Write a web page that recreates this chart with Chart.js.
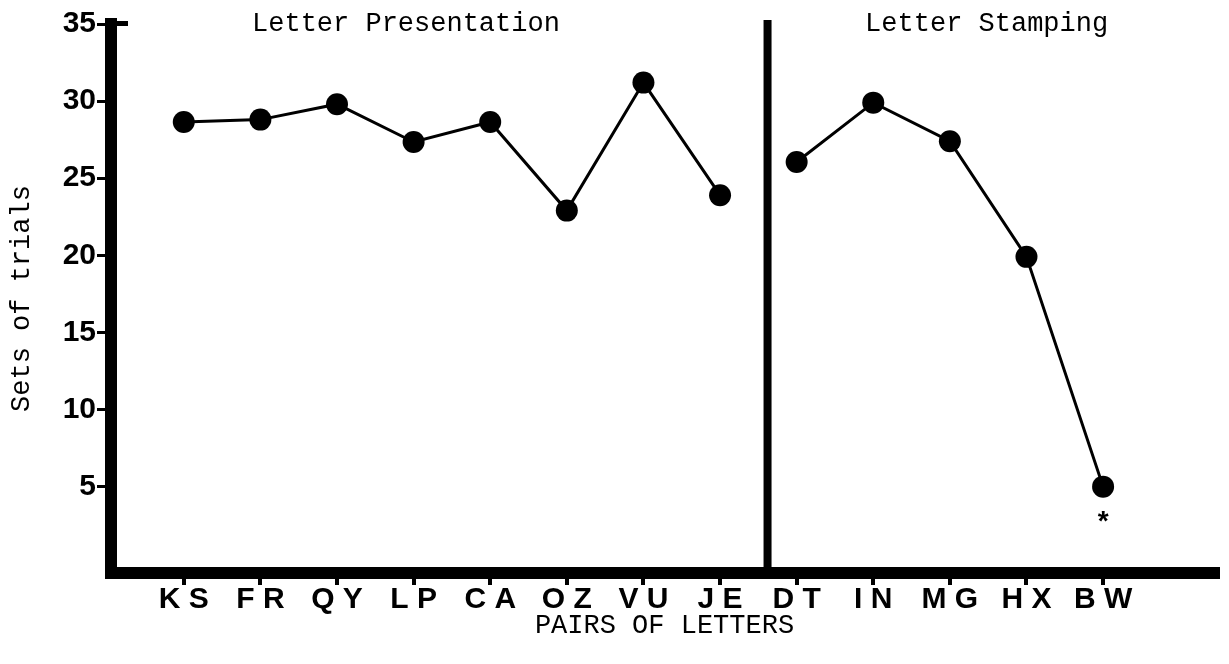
<!DOCTYPE html>
<html>
<head>
<meta charset="utf-8">
<script src="https://cdn.jsdelivr.net/npm/chart.js@4.4.1/dist/chart.umd.min.js"></script>
<style>
  html, body { margin:0; padding:0; background:#fff; }
  #wrap { width:1229px; height:664px; }
</style>
</head>
<body>
<div id="wrap"><canvas id="chart" width="1229" height="664"></canvas></div>
<script>
const presPairs = ['KS','FR','QY','LP','CA','OZ','VU','JE'];
const presVals = [28.65, 28.8, 29.8, 27.35, 28.65, 22.9, 31.2, 23.9];
const stampPairs = ['DT','IN','MG','HX','BW'];
const stampVals = [26.05, 29.9, 27.4, 19.9, 5.0];
const yTicks = [5, 10, 15, 20, 25, 30, 35];
const allPairs = presPairs.concat(stampPairs);

const monoFont = "'Liberation Mono', 'Courier New', monospace";
const sansFont = "'Liberation Sans', Arial, sans-serif";

function toPoints(vals, start){
  return vals.map((v,i) => ({x: start+i, y: v}));
}

// section headings, divider line and the asterisk under the last point
const extras = {
  id: 'extras',
  afterDatasetsDraw(chart){
    const ctx = chart.ctx;
    const x = chart.scales.x;
    const area = chart.chartArea;
    ctx.save();
    ctx.fillStyle = '#000';
    ctx.fillRect(x.getPixelForValue(7.62)-4, 20, 8, area.bottom-20);
    ctx.fillRect(area.left, area.top-3, 17, 5);
    ctx.font = "27px " + monoFont;
    ctx.textAlign = 'center';
    ctx.textBaseline = 'alphabetic';
    ctx.fillText('Letter Presentation', x.getPixelForValue(2.9), 31);
    ctx.fillText('Letter Stamping', x.getPixelForValue(10.48), 31);
    const last = chart.getDatasetMeta(1).data[stampVals.length-1];
    ctx.font = "bold 28px " + sansFont;
    ctx.textBaseline = 'middle';
    ctx.fillText('*', last.x, last.y + 36);
    ctx.restore();
  }
};

const lineStyle = {
  borderColor: '#000',
  backgroundColor: '#000',
  borderWidth: 3,
  pointRadius: 11,
  pointBorderWidth: 0,
  pointBackgroundColor: '#000',
  tension: 0,
  fill: false
};

new Chart(document.getElementById('chart'), {
  type: 'line',
  data: {
    datasets: [
      Object.assign({label: 'Letter Presentation', data: toPoints(presVals, 0)}, lineStyle),
      Object.assign({label: 'Letter Stamping', data: toPoints(stampVals, presPairs.length)}, lineStyle)
    ]
  },
  options: {
    responsive: false,
    animation: false,
    layout: { padding: { top: 24, right: 4, left: 0, bottom: 0 } },
    plugins: { legend: {display:false}, tooltip: {enabled:false} },
    scales: {
      x: {
        type: 'linear',
        min: -0.95,
        max: 13.5,
        afterBuildTicks: (s) => { s.ticks = allPairs.map((p,i) => ({value: i})); },
        afterFit: (s) => { s.height = 91; },
        grid: { drawOnChartArea: false, drawTicks: true, tickLength: 12, lineWidth: 4, color: '#000' },
        border: { display: true, width: 12, color: '#000' },
        ticks: {
          color: '#000',
          padding: 0,
          maxRotation: 0,
          autoSkip: false,
          font: { family: sansFont, size: 30, weight: 'bold', lineHeight: 1 },
          callback: (v) => allPairs[v] ? allPairs[v].split('').join(' ') : ''
        },
        title: {
          display: true,
          text: 'PAIRS OF LETTERS',
          color: '#000',
          font: { family: monoFont, size: 27 },
          padding: { top: 0, bottom: 22 }
        }
      },
      y: {
        min: -0.6,
        max: 35,
        afterBuildTicks: (s) => { s.ticks = yTicks.map(v => ({value: v})); },
        afterFit: (s) => { s.width = 111; },
        grid: { drawOnChartArea: false, drawTicks: true, tickLength: 14, lineWidth: 3, color: '#000' },
        border: { display: true, width: 12, color: '#000' },
        ticks: {
          color: '#000',
          padding: 1,
          font: { family: sansFont, size: 30, weight: 'bold' }
        },
        title: {
          display: true,
          text: 'Sets of trials',
          color: '#000',
          font: { family: monoFont, size: 27 },
          padding: { top: 6, bottom: 0 }
        }
      }
    }
  },
  plugins: [extras]
});
</script>
</body>
</html>
